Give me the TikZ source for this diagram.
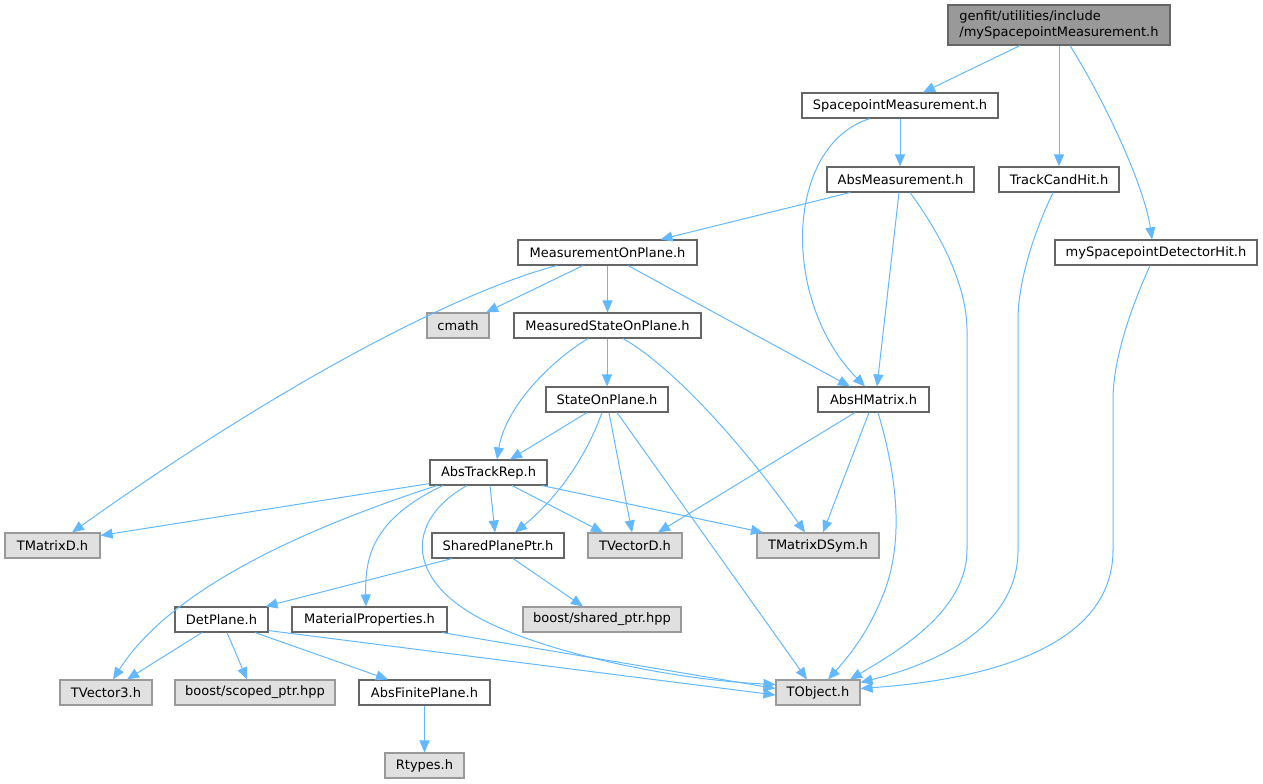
\documentclass[tikz,border=0pt]{standalone}
\usepackage{fontspec}
\setmainfont{DejaVu Sans}
\usetikzlibrary{arrows.meta}
\definecolor{edgeblue}{HTML}{63B8FF}
\definecolor{bord}{HTML}{666666}
\definecolor{gbord}{HTML}{999999}
\definecolor{gfill}{HTML}{E0E0E0}
\definecolor{rootfill}{HTML}{999999}
\begin{document}
\begin{tikzpicture}[x=1pt,y=-1pt,
  box/.style={draw=bord, fill=white, line width=1.1pt, minimum height=25pt, inner sep=0pt,
              font=\fontsize{13}{16}\selectfont},
  ext/.style={box, draw=gbord, fill=gfill},
  dep/.style={draw=edgeblue, line width=1pt, -{Triangle[length=12pt,width=10pt]}}
]
\useasboundingbox (0,0) rectangle (1263,784);
% nodes
\node[box, fill=rootfill, minimum width=222pt, minimum height=40pt, align=left] (root) at (1059,25)
  {genfit/utilities/include\\/mySpacepointMeasurement.h};
\node[box, minimum width=196pt] (spm) at (900,105.5) {SpacepointMeasurement.h};
\node[box, minimum width=147pt] (absm) at (900.5,179.5) {AbsMeasurement.h};
\node[box, minimum width=120pt] (tch) at (1059,179.5) {TrackCandHit.h};
\node[box, minimum width=202pt] (mysdh) at (1156,252.5) {mySpacepointDetectorHit.h};
\node[box, minimum width=179pt] (mop) at (607.5,252.5) {MeasurementOnPlane.h};
\node[ext, minimum width=62pt] (cmath) at (458,325.5) {cmath};
\node[box, minimum width=187pt] (msop) at (607.5,325.5) {MeasuredStateOnPlane.h};
\node[box, minimum width=111pt] (ahm) at (873.5,399.5) {AbsHMatrix.h};
\node[box, minimum width=122pt] (sop) at (607,399.5) {StateOnPlane.h};
\node[box, minimum width=117pt] (atr) at (488.5,472.5) {AbsTrackRep.h};
\node[ext, minimum width=95pt] (tmd) at (52.5,545.5) {TMatrixD.h};
\node[box, minimum width=132pt] (spp) at (498,545.5) {SharedPlanePtr.h};
\node[ext, minimum width=94pt] (tvd) at (635,545.5) {TVectorD.h};
\node[ext, minimum width=122pt] (tmds) at (818,545.5) {TMatrixDSym.h};
\node[box, minimum width=93pt] (dp) at (221.5,619.5) {DetPlane.h};
\node[box, minimum width=155pt] (mp) at (369.5,619.5) {MaterialProperties.h};
\node[ext, minimum width=158pt] (bsp) at (602,619.5) {boost/shared\_ptr.hpp};
\node[ext, minimum width=92pt] (tv3) at (106,692.5) {TVector3.h};
\node[ext, minimum width=160pt] (bscp) at (255,692.5) {boost/scoped\_ptr.hpp};
\node[box, minimum width=131pt] (afp) at (424.5,692.5) {AbsFinitePlane.h};
\node[ext, minimum width=84pt] (tobj) at (818,692.5) {TObject.h};
\node[ext, minimum width=79pt] (rt) at (424.5,765.5) {Rtypes.h};
% edges
\draw[dep] ([xshift=-39pt]root.south) -- ([xshift=23pt]spm.north);
\draw[dep] (root.south) -- (tch.north);
\draw[dep] ([xshift=11pt]root.south) .. controls (1110,110) and (1145,190) .. ([xshift=-4pt]mysdh.north);
\draw[dep] (spm.south) -- ([xshift=-0.5pt]absm.north);
\draw[dep] ([xshift=-30pt]spm.south) .. controls (785,145) and (780,300) .. ([xshift=-8.5pt]ahm.north);
\draw[dep] ([xshift=-50.5pt]absm.south) -- ([xshift=53pt]mop.north);
\draw[dep] ([xshift=-1.5pt]absm.south) -- ([xshift=3.5pt]ahm.north);
\draw[dep] ([xshift=9.5pt]absm.south) .. controls (945,240) and (967,290) .. (967,330) -- (967,550)
  .. controls (967,610) and (900,650) .. ([xshift=32pt]tobj.north);
\draw[dep] ([xshift=-6pt]tch.south) .. controls (1035,230) and (1018,280) .. (1018,320) -- (1018,550)
  .. controls (1018,630) and (930,665) .. ([yshift=-3pt]tobj.north east);
\draw[dep] ([xshift=-6pt]mysdh.south) .. controls (1130,310) and (1113,360) .. (1113,400) -- (1113,550)
  .. controls (1113,650) and (980,680) .. ([yshift=4pt]tobj.east);
\draw[dep] ([xshift=-50.5pt]mop.south) .. controls (470,288) and (300,370) .. ([xshift=19.5pt]tmd.north);
\draw[dep] ([xshift=-24.5pt]mop.south) -- ([xshift=28pt]cmath.north);
\draw[dep] (mop.south) -- (msop.north);
\draw[dep] ([xshift=20.5pt]mop.south) -- ([xshift=-23.5pt]ahm.north);
\draw[dep] ([xshift=-19.5pt]msop.south) .. controls (545,365) and (505,410) .. ([xshift=8.5pt]atr.north);
\draw[dep] ([xshift=-0.5pt]msop.south) -- (sop.north);
\draw[dep] ([xshift=15.5pt]msop.south) .. controls (670,365) and (740,440) .. ([xshift=-13pt]tmds.north);
\draw[dep] ([xshift=-18.5pt]ahm.south) -- ([xshift=23pt]tvd.north);
\draw[dep] ([xshift=-4.5pt]ahm.south) -- ([xshift=5pt]tmds.north);
\draw[dep] ([xshift=4.5pt]ahm.south) .. controls (898,480) and (903,540) .. (885,590)
  .. controls (870,630) and (850,655) .. ([xshift=10pt]tobj.north);
\draw[dep] ([xshift=-20pt]sop.south) -- ([xshift=21.5pt]atr.north);
\draw[dep] ([xshift=-5pt]sop.south) .. controls (585,460) and (555,500) .. ([xshift=17pt]spp.north);
\draw[dep] ([xshift=2pt]sop.south) -- ([xshift=-3pt]tvd.north);
\draw[dep] ([xshift=10pt]sop.south) -- ([xshift=-11pt]tobj.north);
\draw[dep] ([yshift=2pt]atr.south west) -- ([yshift=-3pt]tmd.north east);
\draw[dep] ([xshift=-51.5pt]atr.south) .. controls (300,530) and (170,590) .. ([xshift=7pt]tv3.north);
\draw[dep] ([xshift=-45.5pt]atr.south) .. controls (370,520) and (365,560) .. ([xshift=-3.5pt]mp.north);
\draw[dep] ([xshift=-21.5pt]atr.south) .. controls (405,520) and (400,585) .. (500,628)
  .. controls (570,658) and (680,680) .. ([yshift=8pt]tobj.west);
\draw[dep] ([xshift=1.5pt]atr.south) -- ([xshift=-3pt]spp.north);
\draw[dep] ([xshift=23.5pt]atr.south) -- ([xshift=-32pt]tvd.north);
\draw[dep] ([xshift=53.5pt]atr.south) -- ([xshift=-55pt]tmds.north);
\draw[dep] ([xshift=-46pt]spp.south) -- ([xshift=-3pt]dp.north east);
\draw[dep] ([xshift=15pt]spp.south) -- ([xshift=-19pt]bsp.north);
\draw[dep] ([xshift=-19.5pt]dp.south) -- ([xshift=21pt]tv3.north);
\draw[dep] ([xshift=5.5pt]dp.south) -- ([xshift=-8pt]bscp.north);
\draw[dep] ([xshift=33.5pt]dp.south) -- ([xshift=-36.5pt]afp.north);
\draw[dep] ([yshift=2pt]dp.south east) -- ([yshift=-2.5pt]tobj.west);
\draw[dep] ([xshift=72.5pt]mp.south) -- ([yshift=4pt]tobj.west);
\draw[dep] (afp.south) -- (rt.north);
\end{tikzpicture}
\end{document}
